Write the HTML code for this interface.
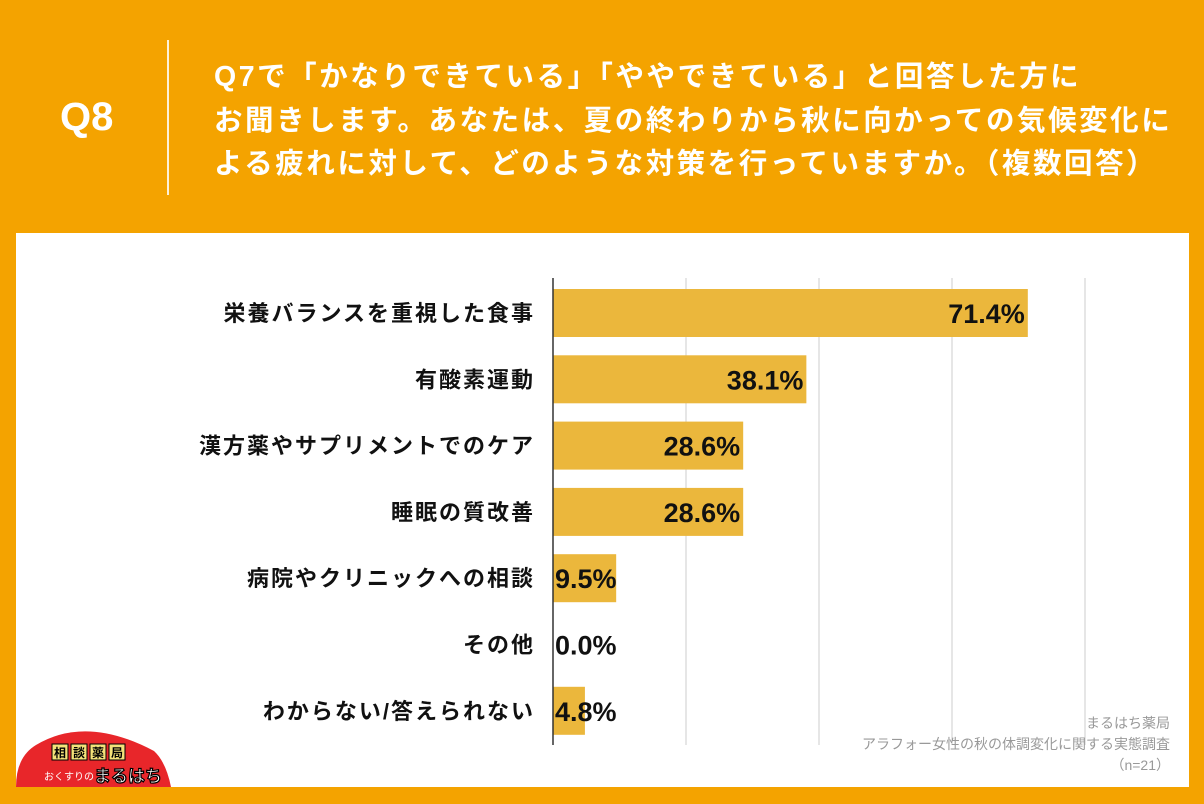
<!DOCTYPE html>
<html><head><meta charset="utf-8">
<style>
body{margin:0;width:1204px;height:804px;background:#F4A300;position:relative;overflow:hidden;font-family:"Liberation Sans","Noto Sans CJK JP",sans-serif}
#panel{position:absolute;left:16px;top:233px;width:1173px;height:554px;background:#fff}
#q8{position:absolute;left:60px;top:95px;font-size:40px;font-weight:bold;color:#fff}
#vline{position:absolute;left:167px;top:40px;width:2px;height:155px;background:#fff;opacity:.85}
#qtext{position:absolute;left:214px;top:56px;font-size:28.5px;font-weight:bold;color:#fff;line-height:43.5px;letter-spacing:2.55px;white-space:nowrap}
#src{position:absolute;right:34px;top:713px;text-align:right;color:#999;font-size:14px;line-height:21px}
</style></head><body>
<div id="panel"></div>
<div id="q8">Q8</div>
<div id="vline"></div>
<div id="qtext">Q7で「かなりできている」「ややできている」と回答した方に<br>お聞きします。あなたは、夏の終わりから秋に向かっての気候変化に<br>よる疲れに対して、どのような対策を行っていますか。（複数回答）</div>
<svg id="chart" width="1204" height="804" style="position:absolute;left:0;top:0"></svg>
<div id="src">まるはち薬局<br>アラフォー女性の秋の体調変化に関する実態調査<br>（n=21）</div>
<svg width="170" height="70" style="position:absolute;left:16px;top:717px">
<path d="M0 70 Q0 40 20 28 Q70 -2 138 34 Q150 45 155 70 Z" fill="#E8262A"/>
<g font-size="12" font-weight="bold" fill="#000">
<rect x="36" y="27" width="16" height="16" fill="#F4E27A" stroke="#000"/><text x="38" y="40">相</text>
<rect x="55" y="27" width="16" height="16" fill="#F4E27A" stroke="#000"/><text x="57" y="40">談</text>
<rect x="74" y="27" width="16" height="16" fill="#F4E27A" stroke="#000"/><text x="76" y="40">薬</text>
<rect x="93" y="27" width="16" height="16" fill="#F4E27A" stroke="#000"/><text x="95" y="40">局</text>
</g>
<text x="28" y="63" font-size="10" fill="#fff">おくすりの</text>
<text x="78" y="65" font-size="17" font-weight="bold" fill="#fff" stroke="#000" stroke-width="1.2">まるはち</text>
</svg>
<script>
const categories=["栄養バランスを重視した食事","有酸素運動","漢方薬やサプリメントでのケア","睡眠の質改善","病院やクリニックへの相談","その他","わからない/答えられない"];
const values=[71.4,38.1,28.6,28.6,9.5,0.0,4.8];
const valueLabels=["71.4%","38.1%","28.6%","28.6%","9.5%","0.0%","4.8%"];
const gridTicks=[20,40,60,80];
const svg=document.getElementById('chart');
const NS='http://www.w3.org/2000/svg';
const x0=553,pxPer=6.65,yTop=278,yBot=745,step=66.3,barH=48,firstC=313;
const xs=v=>x0+v*pxPer;
const yc=i=>firstC+i*step;
function mk(t,a){const e=document.createElementNS(NS,t);for(const k in a)e.setAttribute(k,a[k]);svg.appendChild(e);return e;}
gridTicks.forEach(t=>{const l=mk('line',{x1:xs(t),x2:xs(t),y1:yTop,y2:yBot,stroke:'#ccc','stroke-width':1});

});
values.forEach((v,i)=>{
const r=mk('rect',{x:x0,y:yc(i)-barH/2,width:Math.max(0,xs(v)-x0),height:barH,fill:'#EBB73C'});


const c=mk('text',{x:535,y:yc(i)+8,'text-anchor':'end','font-size':22,'font-weight':'bold',fill:'#111','letter-spacing':'2'});
c.textContent=categories[i];


const w=xs(v)-x0;const inside=w>95;
const t=mk('text',{x:inside?xs(v)-3:555,y:yc(i)+10,'text-anchor':inside?'end':'start','font-size':27,'font-weight':'bold',fill:'#111'});
t.textContent=valueLabels[i];


});
const ax=mk('line',{x1:x0,x2:x0,y1:yTop,y2:yBot,stroke:'#333','stroke-width':1.5});


</script>
</body></html>
